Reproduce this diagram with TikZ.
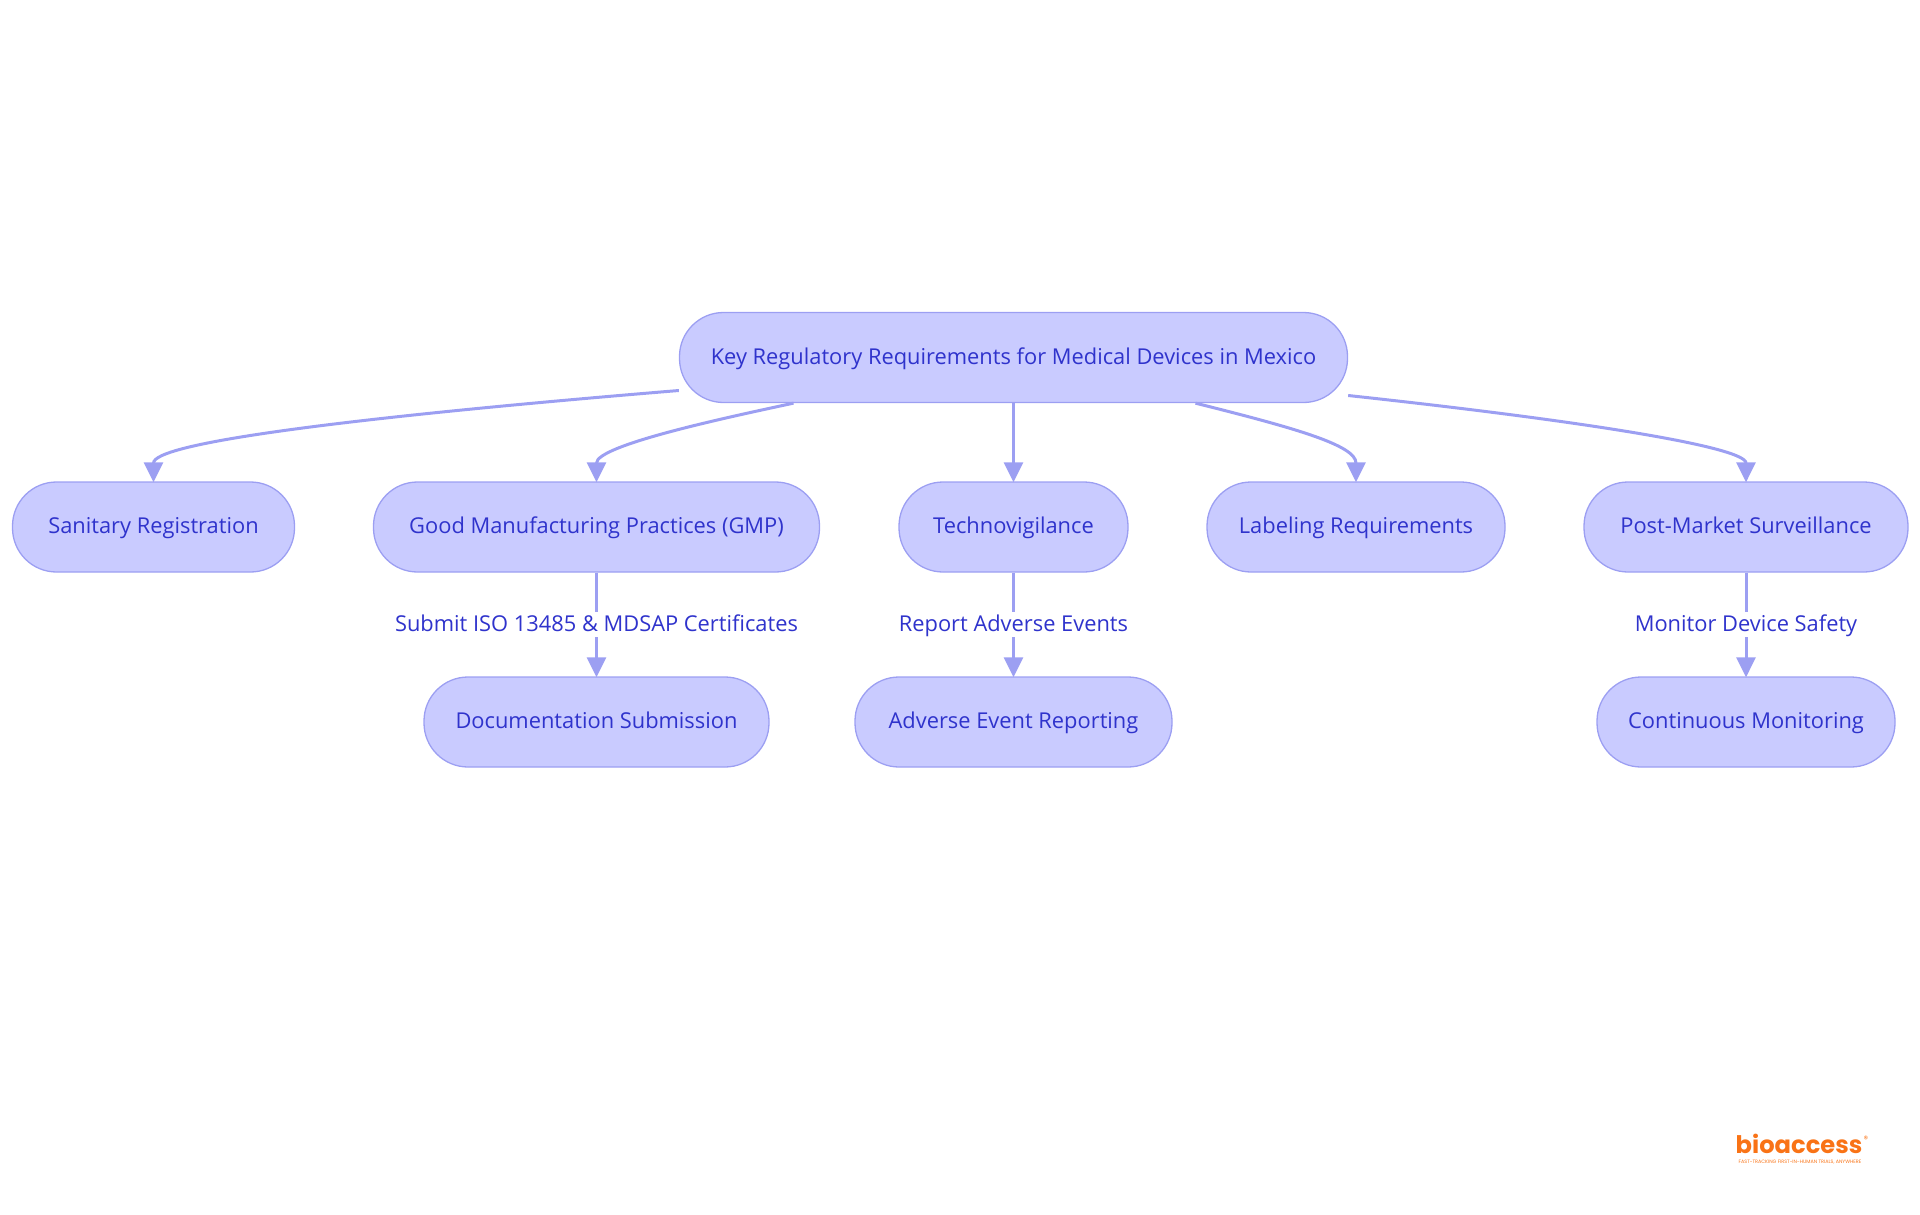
\documentclass[tikz,border=0pt]{standalone}
\usepackage{fontspec}
\usetikzlibrary{arrows.meta,positioning,calc}
\setmainfont{Open Sans}
\newfontfamily\logofont{Poppins}
\definecolor{boxfill}{HTML}{C9CBFF}
\definecolor{boxline}{HTML}{9C9FF2}
\definecolor{ink}{HTML}{2F33CC}
\definecolor{logo}{HTML}{F97316}
\tikzset{
  x=1pt,y=-1pt,
  pill/.style={draw=boxline,line width=1.3pt,fill=boxfill,text=ink,rounded corners=44pt,minimum height=90pt,inner sep=0pt,text height=17pt,text depth=4pt,font=\fontsize{21.85}{26}\selectfont},
  edge/.style={draw=boxline,line width=3pt,shorten >=-1pt,-{Triangle[length=20pt,width=19pt]}},
  edgelabel/.style={fill=white,text=ink,inner xsep=1pt,inner ysep=2pt,text height=17pt,text depth=4pt,font=\fontsize{21.85}{26}\selectfont},
}
\begin{document}
\begin{tikzpicture}
\useasboundingbox (0,0) rectangle (1920,1215);
\node[pill,minimum width=668pt] (root) at (1013.5,357.5) {Key Regulatory Requirements for Medical Devices in Mexico};
\node[pill,minimum width=282pt] (san) at (153.5,527) {Sanitary Registration};
\node[pill,minimum width=446pt] (gmp) at (596.5,527) {Good Manufacturing Practices (GMP)};
\node[pill,minimum width=229pt] (tech) at (1013.5,527) {Technovigilance};
\node[pill,minimum width=298pt] (lab) at (1356,527) {Labeling Requirements};
\node[pill,minimum width=324pt] (post) at (1746,527) {Post-Market Surveillance};
\node[pill,minimum width=345pt] (doc) at (596.5,722) {Documentation Submission};
\node[pill,minimum width=317pt] (adv) at (1013.5,722) {Adverse Event Reporting};
\node[pill,minimum width=298pt] (cont) at (1746,722) {Continuous Monitoring};

\draw[edge] ([yshift=-33pt]root.west) .. controls +(-340,28) and +(0,-38) .. (san.north);
\draw[edge] ([xshift=-220pt]root.south) .. controls +(-70,15) and +(0,-36) .. (gmp.north);
\draw[edge] (root.south) -- (tech.north);
\draw[edge] ([xshift=182pt]root.south) .. controls +(100,25) and +(0,-36) .. (lab.north);
\draw[edge] ([yshift=-38pt]root.east) .. controls +(240,26) and +(0,-34) .. (post.north);
\draw[edge] (gmp.south) -- node[edgelabel] {Submit ISO 13485 \& MDSAP Certificates} (doc.north);
\draw[edge] (tech.south) -- node[edgelabel] {Report Adverse Events} (adv.north);
\draw[edge] (post.south) -- node[edgelabel] {Monitor Device Safety} (cont.north);

\node[text=logo,inner sep=0pt,font=\logofont\bfseries\fontsize{24.2}{26}\selectfont] (brand) at (1799,1144) {bioaccess};
\node[text=logo,inner sep=0pt,font=\logofont\fontsize{9}{10}\selectfont] (reg) at (1866,1139) {\textregistered};
\node[text=logo,inner sep=0pt,font=\logofont\fontsize{4.85}{6}\selectfont] (tag) at (1800,1162) {FAST-TRACKING FIRST-IN-HUMAN TRIALS, ANYWHERE};
\end{tikzpicture}
\end{document}
